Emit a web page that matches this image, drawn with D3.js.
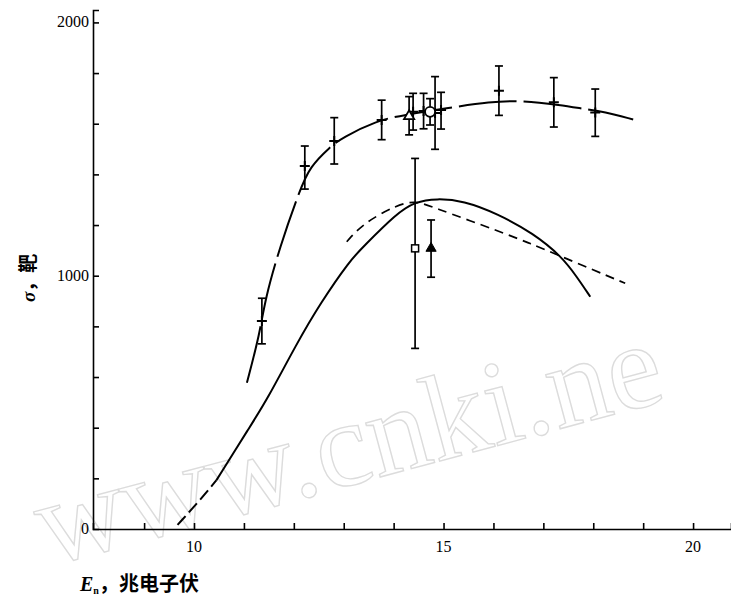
<!doctype html>
<html lang="zh">
<head>
    <meta charset="utf-8">
    <script src="https://d3js.org/d3.v7.min.js"></script>
    <style>
        body { margin:0; background:#fff; }
        svg { display:block; }
    </style>
    <title>σ vs En</title>
</head>
<body>
<script>

    // ---- data ----
    // upper curve (long dashes) through the + points
    var upperCurve = [[11.06,577],[11.32,773],[11.42,904],[11.72,1114],[12.12,1338],[12.32,1430],
        [12.73,1509],[12.96,1544],[13.66,1612],[14.19,1634],[15.06,1661],[15.93,1687],
        [16.6,1692],[17.33,1674],[17.87,1657],[18.2,1648],[18.8,1617]];
    // solid theory curve, with its dashed start near threshold
    var solidStart = [[9.67,16],[10.15,121],[10.45,193]];
    var solidCurve = [[10.45,193],[11.12,404],[11.46,509],[12.06,733],[12.53,891],[13.13,1062],
        [13.39,1114],[14.06,1246],[14.43,1292],[14.86,1305],[15.4,1296],[16.07,1246],
        [16.8,1167],[17.37,1075],[17.67,996],[17.94,917]];
    // short-dashed curve
    var dashCurve = [[13.06,1134],[13.39,1207],[14.06,1279],[14.43,1296],[14.73,1275],
        [16.13,1174],[16.73,1128],[17.37,1075],[18.64,970]];

    // measured points: E, sigma, low, high
    var plusPoints = [[11.36,821,731,911],[12.22,1433,1342,1512],[12.81,1532,1441,1624],
        [13.76,1615,1537,1693],[14.39,1647,1575,1720],[14.6,1650,1580,1720],
        [14.83,1642,1499,1786],[14.95,1654,1579,1724],[16.11,1730,1633,1828],
        [17.21,1685,1587,1782],[18.04,1644,1550,1737]];
    var openTriangle = [[14.31,1630,1556,1707]];
    var openCircle = [[14.73,1647,1595,1699]];
    var openSquare = [[14.43,1108,713,1463]];
    var filledTriangle = [[14.75,1108,994,1220]];

    var xLabels = [10, 15, 20];
    var yLabels = [0, 1000, 2000];

    var width = 731, height = 597;

    var svg = d3.select("body").append("svg")
        .attr("width", width)
        .attr("height", height);

    // faint watermark of the scanned page
    svg.append("text")
        .attr("transform", "translate(48,566) rotate(-15)")
        .attr("font-family", "Liberation Serif, serif")
        .attr("font-size", 122)
        .attr("fill", "none")
        .attr("stroke", "#dcdcdc")
        .attr("stroke-width", 1.4)
        .text("www.cnki.ne");

    // scales
    var x = d3.scaleLinear().domain([7.976, 20.76]).range([93, 731]);
    var y = d3.scaleLinear().domain([0, 2049]).range([529, 10]);

    // axes: ticks point inward
    var xAxis = svg.append("g")
        .attr("transform", "translate(0,529)")
        .call(d3.axisTop(x).tickValues(d3.range(9, 21)).tickSize(6).tickFormat(""));
    var yAxis = svg.append("g")
        .attr("transform", "translate(93,0)")
        .call(d3.axisRight(y).tickValues(d3.range(200, 2001, 200)).tickSize(6).tickFormat(""));
    [xAxis, yAxis].forEach(function(g) {
        g.selectAll("path").attr("stroke", "#000").attr("stroke-width", 1.6);
        g.selectAll("line").attr("stroke", "#000").attr("stroke-width", 1.6);
    });

    // tick labels
    svg.selectAll(".xlab").data(xLabels).enter().append("text")
        .attr("x", function(d) { return x(d); })
        .attr("y", 552)
        .attr("text-anchor", "middle")
        .attr("font-family", "Liberation Serif, serif")
        .attr("font-size", 16)
        .text(function(d) { return d; });
    svg.selectAll(".ylab").data(yLabels).enter().append("text")
        .attr("x", 89)
        .attr("y", function(d) { return y(d) + 5; })
        .attr("text-anchor", "end")
        .attr("font-family", "Liberation Serif, serif")
        .attr("font-size", 16)
        .text(function(d) { return d; });

    // axis titles
    var xt = svg.append("text")
        .attr("x", 80)
        .attr("y", 591)
        .attr("font-size", 20)
        .attr("font-weight", "bold");
    xt.append("tspan").attr("font-family", "Liberation Serif, serif").attr("font-style", "italic").text("E");
    xt.append("tspan").attr("font-family", "Liberation Serif, serif").attr("font-size", 10).attr("dy", 3).text("n");
    xt.append("tspan").attr("font-family", "Noto Sans CJK SC").attr("dy", -3).text("，兆电子伏");

    var yt = svg.append("text")
        .attr("transform", "translate(35,302) rotate(-90)")
        .attr("font-size", 19)
        .attr("font-weight", "bold");
    yt.append("tspan").attr("font-family", "Liberation Serif, serif").attr("font-style", "italic").text("σ");
    yt.append("tspan").attr("font-family", "Noto Sans CJK SC").text("，靶");

    // curves
    var line = d3.line()
        .x(function(d) { return x(d[0]); })
        .y(function(d) { return y(d[1]); })
        .curve(d3.curveBasis);

    svg.append("path").attr("d", line(upperCurve))
        .attr("fill", "none").attr("stroke", "#000").attr("stroke-width", 2)
        .attr("stroke-dasharray", "58,7");
    svg.append("path").attr("d", line(solidStart))
        .attr("fill", "none").attr("stroke", "#000").attr("stroke-width", 2)
        .attr("stroke-dasharray", "12,5");
    svg.append("path").attr("d", line(solidCurve))
        .attr("fill", "none").attr("stroke", "#000").attr("stroke-width", 2);
    svg.append("path").attr("d", line(dashCurve))
        .attr("fill", "none").attr("stroke", "#000").attr("stroke-width", 1.7)
        .attr("stroke-dasharray", "9,6");

    // error bars for every point set
    function errorBars(data) {
        var g = svg.append("g").attr("stroke", "#000").attr("stroke-width", 1.7);
        g.selectAll(".eb").data(data).enter().append("line")
            .attr("x1", function(d) { return x(d[0]); })
            .attr("x2", function(d) { return x(d[0]); })
            .attr("y1", function(d) { return y(d[2]); })
            .attr("y2", function(d) { return y(d[3]); });
        [2, 3].forEach(function(k) {
            g.selectAll(".cap" + k).data(data).enter().append("line")
                .attr("x1", function(d) { return x(d[0]) - 4; })
                .attr("x2", function(d) { return x(d[0]) + 4; })
                .attr("y1", function(d) { return y(d[k]); })
                .attr("y2", function(d) { return y(d[k]); });
        });
    }
    errorBars(plusPoints);
    errorBars(openTriangle);
    errorBars(openCircle);
    errorBars(openSquare);
    errorBars(filledTriangle);

    // markers
    svg.selectAll(".plus").data(plusPoints).enter().append("path")
        .attr("d", function(d) {
            var cx = x(d[0]), cy = y(d[1]);
            return "M" + (cx - 5) + "," + cy + "H" + (cx + 5) + "M" + cx + "," + (cy - 5) + "V" + (cy + 5);
        })
        .attr("stroke", "#000").attr("stroke-width", 2);

    var tri = d3.symbol().type(d3.symbolTriangle).size(45);
    svg.selectAll(".otri").data(openTriangle).enter().append("path")
        .attr("d", tri)
        .attr("transform", function(d) { return "translate(" + x(d[0]) + "," + y(d[1]) + ")"; })
        .attr("fill", "#fff").attr("stroke", "#000").attr("stroke-width", 1.8);
    svg.selectAll(".ftri").data(filledTriangle).enter().append("path")
        .attr("d", tri)
        .attr("transform", function(d) { return "translate(" + x(d[0]) + "," + y(d[1]) + ")"; })
        .attr("fill", "#000").attr("stroke", "#000").attr("stroke-width", 1);
    svg.selectAll(".ocirc").data(openCircle).enter().append("circle")
        .attr("cx", function(d) { return x(d[0]); })
        .attr("cy", function(d) { return y(d[1]); })
        .attr("r", 5)
        .attr("fill", "#fff").attr("stroke", "#000").attr("stroke-width", 1.8);
    svg.selectAll(".osq").data(openSquare).enter().append("rect")
        .attr("x", function(d) { return x(d[0]) - 3.5; })
        .attr("y", function(d) { return y(d[1]) - 3.5; })
        .attr("width", 7).attr("height", 7)
        .attr("fill", "#fff").attr("stroke", "#000").attr("stroke-width", 1.5);

</script>
</body>
</html>
